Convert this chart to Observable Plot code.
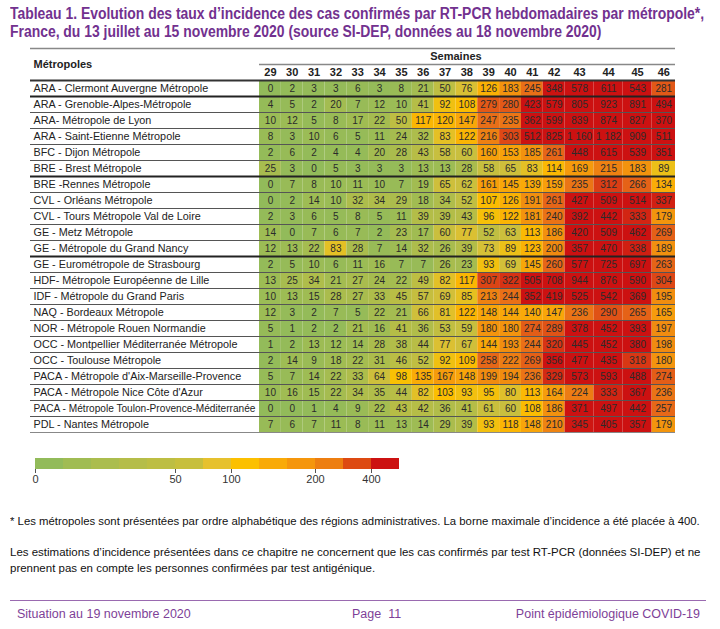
<!DOCTYPE html>
<html><head><meta charset="utf-8">
<script src="https://cdn.jsdelivr.net/npm/d3@7"></script>
<script src="https://cdn.jsdelivr.net/npm/@observablehq/plot@0.6"></script>
<style>
body{margin:0;width:720px;height:629px;position:relative;background:#fff;overflow:hidden;
 font-family:"Liberation Sans Narrow","Arial Narrow","Liberation Sans",Arial,sans-serif;}
#title{position:absolute;left:10px;top:5px;color:#72318f;font-weight:bold;font-size:16px;line-height:18px;white-space:nowrap;transform-origin:0 0;display:inline-block}
#chart{position:absolute;left:0;top:44px}
#legend{position:absolute;left:0;top:450px}
.note{position:absolute;left:10px;font-size:11.5px;line-height:16px;color:#111;white-space:nowrap;transform-origin:0 0}
#rule{position:absolute;left:10px;width:696px;top:600px;height:0;border-top:1.5px solid #9a6ab0}
.foot{position:absolute;top:607px;font-size:12.5px;color:#7e3f98;white-space:nowrap}
</style></head>
<body>
<div id="title">Tableau 1. Evolution des taux d’incidence des cas confirmés par RT-PCR hebdomadaires par métropole*,<br>France, du 13 juillet au 15 novembre 2020 (source SI-DEP, données au 18 novembre 2020)</div>
<div id="chart"></div>
<div id="legend"></div>
<div class="note" id="note1" style="top:513px">* Les métropoles sont présentées par ordre alphabétique des régions administratives. La borne maximale d’incidence a été placée à 400.</div>
<div class="note" id="note2" style="top:544px">Les estimations d’incidence présentées dans ce chapitre ne concernent que les cas confirmés par test RT-PCR (données SI-DEP) et ne<br>prennent pas en compte les personnes confirmées par test antigénique.</div>
<div id="rule"></div>
<div class="foot" style="left:17px">Situation au 19 novembre 2020</div>
<div class="foot" style="left:352px">Page&nbsp;&nbsp;11</div>
<div class="foot" style="right:20px">Point épidémiologique COVID-19</div>
<script>
const weeks = [29,30,31,32,33,34,35,36,37,38,39,40,41,42,43,44,45,46];
const metropoles = [
 "ARA - Clermont Auvergne Métropole",
 "ARA - Grenoble-Alpes-Métropole",
 "ARA- Métropole de Lyon",
 "ARA - Saint-Etienne Métropole",
 "BFC - Dijon Métropole",
 "BRE - Brest Métropole",
 "BRE -Rennes Métropole",
 "CVL - Orléans Métropole",
 "CVL - Tours Métropole Val de Loire",
 "GE - Metz Métropole",
 "GE - Métropole du Grand Nancy",
 "GE - Eurométropole de Strasbourg",
 "HDF- Métropole Européenne de Lille",
 "IDF - Métropole du Grand Paris",
 "NAQ - Bordeaux Métropole",
 "NOR - Métropole Rouen Normandie",
 "OCC - Montpellier Méditerranée Métropole",
 "OCC - Toulouse Métropole",
 "PACA - Métropole d'Aix-Marseille-Provence",
 "PACA - Métropole Nice Côte d'Azur",
 "PACA - Métropole Toulon-Provence-Méditerranée",
 "PDL - Nantes Métropole"
];
const incidence = [
 [0,2,3,3,6,3,8,21,50,76,126,183,245,348,578,611,543,281],
 [4,5,2,20,7,12,10,41,92,108,279,280,423,579,805,923,891,494],
 [10,12,5,8,17,22,50,117,120,147,247,235,362,599,839,874,827,370],
 [8,3,10,6,5,11,24,32,83,122,216,303,512,825,1160,1182,909,511],
 [2,6,2,4,4,20,28,43,58,60,160,153,185,261,448,615,539,351],
 [25,3,0,5,3,3,3,13,13,28,58,65,83,114,169,215,183,89],
 [0,7,8,10,11,10,7,19,65,62,161,145,139,159,235,312,266,134],
 [0,2,14,10,32,34,29,18,34,52,107,126,191,261,427,509,514,337],
 [2,3,6,5,8,5,11,39,39,43,96,122,181,240,392,442,333,179],
 [14,0,7,6,7,2,23,17,60,77,52,63,113,186,420,509,462,269],
 [12,13,22,83,28,7,14,32,26,39,73,89,123,200,357,470,338,189],
 [2,5,10,6,11,16,7,7,26,23,93,69,145,260,577,725,697,263],
 [13,25,34,21,27,24,22,49,82,117,307,322,505,708,944,876,590,304],
 [10,13,15,28,27,33,45,57,69,85,213,244,352,419,525,542,369,195],
 [12,3,2,7,5,22,21,66,81,122,148,144,140,147,236,290,265,165],
 [5,1,2,2,21,16,41,36,53,59,180,180,274,289,378,452,393,197],
 [1,2,13,12,14,28,38,44,77,67,144,193,244,320,445,452,380,198],
 [2,14,9,18,22,31,46,52,92,109,258,222,269,356,477,435,318,180],
 [5,7,14,22,33,64,98,135,167,148,199,194,236,329,573,593,488,274],
 [10,16,15,22,34,35,44,82,103,93,95,80,113,164,224,333,367,236],
 [0,0,1,4,9,22,43,42,36,41,61,60,108,186,371,497,442,257],
 [7,6,7,11,8,11,13,14,29,39,93,118,148,210,345,405,357,179]
];
const colorStops = [0, 40, 75, 100, 150, 200, 250, 300, 350];
const colorRange = ["#92bb5a","#b4bd48","#d8c036","#fcc000","#f8a40a","#f08a10","#e86c18","#de4c16","#cc1111"];
const legendThresholds = [0,10,20,30,40,50,75,100,133,166,200,300,400];
const legendColors = ["#92bb5a","#a0bc53","#abbd4e","#b5bd49","#bdbe43","#c7bf3c","#e6c12e","#fcc000","#f9aa08","#f5960c","#ed7e10","#dd4a12","#cc1111"];
const legendTicks = [0,50,100,200,400];
const darkSeparators = [1,6,11];

const FONT = '"Liberation Sans Narrow","Arial Narrow","Liberation Sans",Arial,sans-serif';
const fmt = v => v >= 1000 ? `${Math.floor(v/1000)} ${String(v%1000).padStart(3,"0")}` : String(v);
const cells = metropoles.flatMap((m,i) => weeks.map((w,j) => ({m, i, w, v: incidence[i][j]})));
const firstW = weeks[0], lastW = weeks[weeks.length-1];

const chart = Plot.plot({
  width: 720, height: 392,
  marginTop: 36, marginBottom: 4, marginLeft: 30, marginRight: 45,
  x: {type: "linear", domain: [firstW-0.5, 42.5, 45.5, lastW+0.5], range: [259, 564.6, 651.6, 675], axis: null},
  y: {type: "linear", domain: [0, metropoles.length], range: [36, 388], axis: null},
  color: {type: "linear", domain: colorStops, range: colorRange, clamp: true},
  style: {fontFamily: FONT},
  marks: [
    Plot.rect(cells, {x1: d => d.w - 0.5, x2: d => d.w + 0.5, y1: "i", y2: d => d.i + 1, fill: "v"}),
    Plot.ruleY(d3.range(1, metropoles.length).filter(k => !darkSeparators.includes(k)), {stroke: "#555", strokeWidth: 1}),
    Plot.ruleY(darkSeparators, {stroke: "#222", strokeWidth: 1.8}),
    Plot.ruleY([metropoles.length], {stroke: "#888", strokeWidth: 1.2}),
    Plot.ruleY([0], {stroke: "#333", strokeWidth: 2}),
    Plot.ruleY([-2], {stroke: "#888", strokeWidth: 1.4}),
    Plot.ruleY([-1], {x1: firstW - 0.5, x2: lastW + 0.5, stroke: "#888", strokeWidth: 1.4}),
    Plot.text(metropoles, {y: (d, i) => i + 0.5, text: d => d, frameAnchor: "left", dx: 3, textAnchor: "start", fontSize: 10.8, fill: "#222", className: "rowlabels"}),
    Plot.text(cells, {x: "w", y: d => d.i + 0.5, text: d => fmt(d.v), fontSize: 10, fill: "#2b2b2b", className: "cellvalues"}),
    Plot.text(weeks, {x: d => d, y: -0.5, text: d => String(d), fontWeight: "bold", fontSize: 11, fill: "#222"}),
    Plot.text(["Semaines"], {x: (firstW + lastW) / 2, y: -1.5, text: d => d, fontWeight: "bold", fontSize: 11, fill: "#222"}),
    Plot.text(["Métropoles"], {y: -1, text: d => d, frameAnchor: "left", dx: 3, textAnchor: "start", fontWeight: "bold", fontSize: 11, fill: "#222"})
  ]
});
document.getElementById("chart").append(chart);

// shrink any text that would overflow its column (no narrow font available)
function shrink(selector, base, maxW) {
  chart.querySelectorAll(selector).forEach(t => {
    const len = t.getComputedTextLength();
    if (len > maxW) t.setAttribute("font-size", (base * maxW / len).toFixed(2));
  });
}
shrink(".rowlabels text", 10.8, 222);
shrink(".cellvalues text", 10, 26);

const legend = Plot.plot({
  width: 720, height: 40,
  marginTop: 8, marginBottom: 21, marginLeft: 35, marginRight: 321,
  x: {type: "linear", domain: [0, legendColors.length]},
  y: {axis: null},
  style: {fontFamily: FONT},
  marks: [
    Plot.rect(legendColors, {x1: (d, i) => i, x2: (d, i) => i + 1, fill: d => d}),
    Plot.axisX(legendTicks.map(t => legendThresholds.indexOf(t)), {tickFormat: i => String(legendThresholds[i]), tickSize: 4, tickPadding: 2, fontSize: 11, stroke: "#555", color: "#333"})
  ]
});
document.getElementById("legend").append(legend);

// condense the HTML texts to the reference widths
function fitWidth(id, target) {
  const el = document.getElementById(id);
  const w = el.scrollWidth;
  if (w > target) el.style.transform = `scaleX(${target / w})`;
}
fitWidth("title", 694);
fitWidth("note1", 690);
fitWidth("note2", 690);
</script>
</body></html>
